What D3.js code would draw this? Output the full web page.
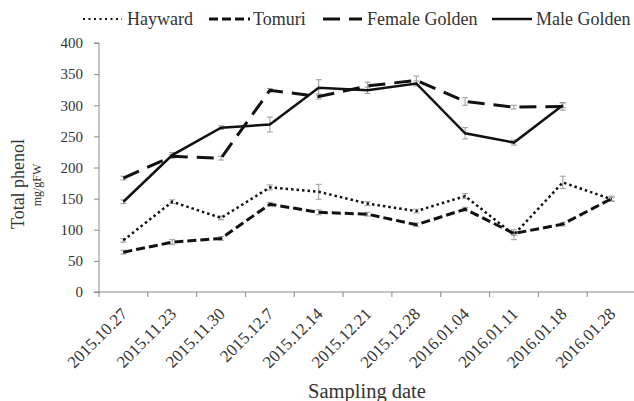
<!DOCTYPE html>
<html>
<head>
<meta charset="utf-8">
<title>Total phenol</title>
<script src="https://cdn.jsdelivr.net/npm/d3@7"></script>
<style>
  body { margin: 0; background: #fff; }
  svg text { font-family: "Liberation Serif", "DejaVu Serif", serif !important; fill: #333; }
</style>
</head>
<body>
<div id="chart"></div>
<script>
// sampling dates
var dates = ["2015.10.27", "2015.11.23", "2015.11.30", "2015.12.7", "2015.12.14", "2015.12.21",
             "2015.12.28", "2016.01.04", "2016.01.11", "2016.01.18", "2016.01.28"];

// series values, mg/gFW (null = not sampled)
var hayward      = [83, 145, 119, 168, 161, 142, 130, 154, 92, 176, 149];
var tomuri       = [64, 80, 86, 141, 128, 125, 108, 133, 94, 109, 150];
var femaleGolden = [183, 218, 215, 324, 314, 331, 340, 306, 297, 298, null];
var maleGolden   = [145, 220, 264, 269, 328, 324, 335, 255, 240, 300, null];

// standard errors
var haywardErr      = [3, 3, 3, 4, 12, 3, 3, 4, 8, 10, 3];
var tomuriErr       = [3, 4, 3, 3, 4, 3, 3, 3, 3, 3, 4];
var femaleGoldenErr = [3, 3, 3, 3, 4, 6, 7, 6, 3, 6, null];
var maleGoldenErr   = [3, 4, 3, 12, 13, 5, 4, 9, 4, 4, null];

var yTicks = [0, 50, 100, 150, 200, 250, 300, 350, 400];

var series = [
  {name: "Hayward", values: hayward, err: haywardErr, dash: "2.5,3", width: 2.5, cap: "butt"},
  {name: "Tomuri", values: tomuri, err: tomuriErr, dash: "9,4", width: 3, cap: "butt"},
  {name: "Female Golden", values: femaleGolden, err: femaleGoldenErr, dash: "17,9", width: 3, cap: "butt"},
  {name: "Male Golden", values: maleGolden, err: maleGoldenErr, dash: null, width: 2.5, cap: "butt"}
];

var FONT = "'Liberation Serif', 'DejaVu Serif', serif";
var W = 634, H = 401;
var svg = d3.select("#chart").append("svg")
  .attr("width", W).attr("height", H)
  .attr("font-family", FONT);

var x = d3.scaleBand().domain(dates).range([99, 636]).padding(0);
var y = d3.scaleLinear().domain([0, 400]).range([292, 43]);
var cx = function(i) { return x(dates[i]) + x.bandwidth() / 2; };

// y axis
var yAxis = svg.append("g").attr("transform", "translate(99,0)")
  .call(d3.axisLeft(y).tickValues(yTicks).tickSize(5).tickPadding(11));
yAxis.attr("font-family", FONT);
yAxis.select(".domain").attr("stroke", "#888").attr("d", "M-5," + y(400) + "H0V" + y(0));
yAxis.selectAll(".tick line").attr("stroke", "#888");
yAxis.selectAll(".tick text").attr("font-size", 15).attr("fill", "#333");

// x axis: ticks at band boundaries
var xg = svg.append("g");
xg.append("line").attr("x1", 94).attr("x2", W).attr("y1", y(0)).attr("y2", y(0)).attr("stroke", "#888");
xg.selectAll(".xt").data(dates.concat(["end"])).enter().append("line")
  .attr("x1", function(d, i) { return i < dates.length ? x(d) : x.range()[1]; })
  .attr("x2", function(d, i) { return i < dates.length ? x(d) : x.range()[1]; })
  .attr("y1", y(0)).attr("y2", y(0) + 5).attr("stroke", "#888");
xg.selectAll(".xl").data(dates).enter().append("text")
  .attr("transform", function(d, i) { return "translate(" + (cx(i) + 5) + "," + (y(0) + 23) + ") rotate(-45)"; })
  .attr("text-anchor", "end")
  .attr("font-size", 17)
  .attr("fill", "#333")
  .text(function(d) { return d; });

// axis titles
svg.append("text").attr("transform", "translate(24,184) rotate(-90)")
  .attr("text-anchor", "middle").attr("font-size", 18).text("Total phenol");
svg.append("text").attr("transform", "translate(41,185) rotate(-90)")
  .attr("text-anchor", "middle").attr("font-size", 12).text("mg/gFW");
svg.append("text").attr("x", 367).attr("y", 398)
  .attr("text-anchor", "middle").attr("font-size", 20.5).text("Sampling date");

// error bars
series.forEach(function(s) {
  var g = svg.append("g").attr("stroke", "#999").attr("stroke-width", 1);
  s.values.forEach(function(v, i) {
    if (v == null) return;
    var e = s.err[i], px = cx(i);
    g.append("line").attr("x1", px).attr("x2", px).attr("y1", y(v - e)).attr("y2", y(v + e));
    g.append("line").attr("x1", px - 3).attr("x2", px + 3).attr("y1", y(v - e)).attr("y2", y(v - e));
    g.append("line").attr("x1", px - 3).attr("x2", px + 3).attr("y1", y(v + e)).attr("y2", y(v + e));
  });
});

// lines
var line = d3.line()
  .defined(function(d) { return d != null; })
  .x(function(d, i) { return cx(i); })
  .y(function(d) { return y(d); });

series.forEach(function(s) {
  svg.append("path").datum(s.values)
    .attr("fill", "none")
    .attr("stroke", "#111")
    .attr("stroke-width", s.width)
    .attr("stroke-linecap", s.cap)
    .attr("stroke-dasharray", s.dash)
    .attr("d", line);
});

// legend
var legendPos = [
  {x1: 83, x2: 122, tx: 127},
  {x1: 209, x2: 250, tx: 253},
  {x1: 323, x2: 362, tx: 367},
  {x1: 492, x2: 532, tx: 536}
];
series.forEach(function(s, i) {
  var p = legendPos[i];
  svg.append("line").attr("x1", p.x1).attr("x2", p.x2).attr("y1", 19).attr("y2", 19)
    .attr("stroke", "#111").attr("stroke-width", i === 0 ? 2 : s.width)
    .attr("stroke-dasharray", i === 0 ? "2,3.5" : s.dash);
  svg.append("text").attr("x", p.tx).attr("y", 25).attr("font-size", 18).text(s.name);
});
</script>
</body>
</html>
